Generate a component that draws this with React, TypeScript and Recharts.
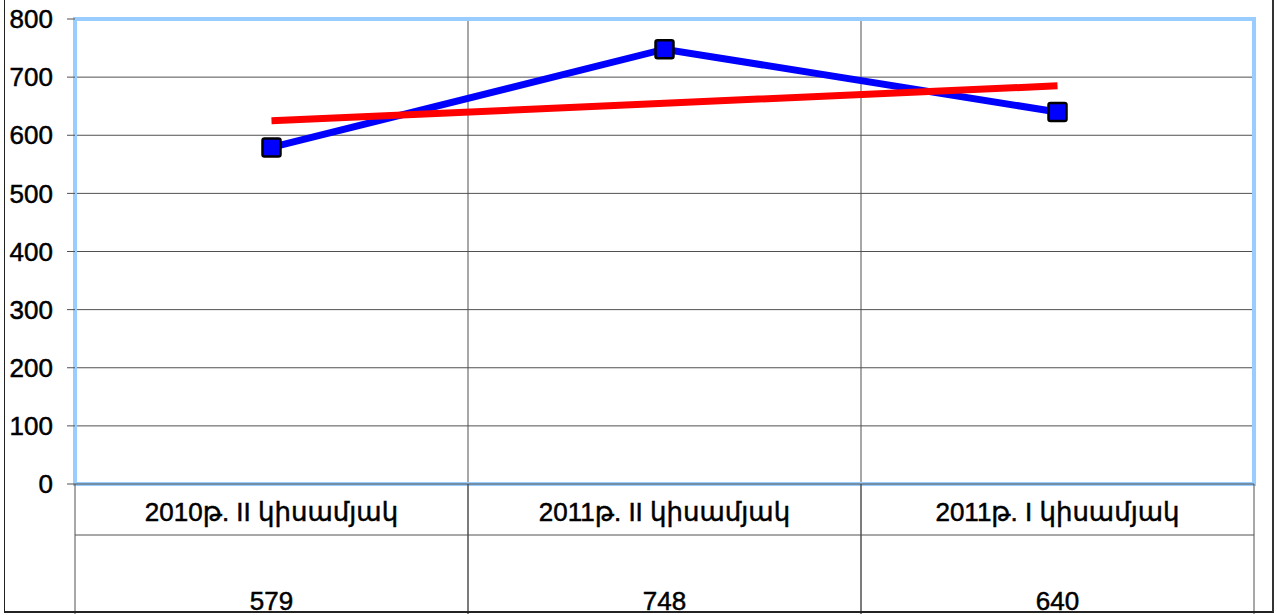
import { LineChart, Line, XAxis, YAxis, CartesianGrid, ReferenceArea } from 'recharts';

const periods = ['2010թ. II կիսամյակ', '2011թ. II կիսամյակ', '2011թ. I կիսամյակ'];
const counts = [579, 748, 640];
const trendValues = [625, 655, 685];
const yTicks = [0, 100, 200, 300, 400, 500, 600, 700, 800];

const chartData = periods.map((period, i) => ({
	period,
	count: counts[i],
	trend: trendValues[i],
}));

const FONT = '"Liberation Sans", Arial, "DejaVu Sans", sans-serif';
const GRID = '#505050';

const SquareDot = (props: any) => {
	const { cx, cy } = props;
	if (cx == null || cy == null) return null;
	return <rect x={cx - 9} y={cy - 9} width={18} height={18} rx={2} fill="#0000ff" stroke="#000" strokeWidth={2.5} />;
};

// band boundaries between categories (band scale, no padding)
const bandEdges = ({ xAxis, offset }: any) => {
	const sc = xAxis && xAxis.scale;
	if (typeof sc === 'function') return periods.slice(1).map((p) => sc(p));
	const left = offset.left;
	const w = offset.width;
	return periods.slice(1).map((_, i) => left + (w * (i + 1)) / periods.length);
};

// category label + value cell under each band, like an Excel data table
const TableTick = (props: any) => {
	const { x, y, payload, width, visibleTicksCount } = props;
	const count = visibleTicksCount || periods.length;
	const half = payload.offset || width / count / 2;
	const idx = payload.index ?? periods.indexOf(payload.value);
	const left = x - half;
	const right = x + half;
	const textProps = {
		textAnchor: 'middle' as const,
		dominantBaseline: 'central' as const,
		fontSize: 26,
		fill: '#000',
		stroke: '#000',
		strokeWidth: 0.5,
		fontFamily: FONT,
	};
	return (
		<g>
			<line x1={left} y1={y} x2={right} y2={y} stroke={GRID} />
			<line x1={left} y1={y + 51} x2={right} y2={y + 51} stroke={GRID} />
			<line x1={left} y1={y} x2={left} y2={y + 130} stroke={GRID} />
			<line x1={right} y1={y} x2={right} y2={y + 130} stroke={GRID} />
			<text x={x} y={y + 28} {...textProps}>
				{payload.value}
			</text>
			<text x={x} y={y + 117} {...textProps}>
				{counts[idx]}
			</text>
		</g>
	);
};

const App = () => {
	return (
		<div style={{ position: 'absolute', left: 0, top: 0, width: 1277, height: 615, background: '#fff', fontFamily: FONT }}>
			<LineChart width={1277} height={615} data={chartData} margin={{ top: 19, right: 23, left: 0, bottom: 0 }}>
				<CartesianGrid stroke={GRID} verticalCoordinatesGenerator={bandEdges} />
				<XAxis
					dataKey="period"
					scale="band"
					height={131}
					axisLine={false}
					tickLine={false}
					tickSize={0}
					tickMargin={0}
					interval={0}
					tick={<TableTick />}
				/>
				<YAxis
					domain={[0, 800]}
					ticks={yTicks}
					width={75}
					axisLine={false}
					tickSize={8}
					tickMargin={14}
					tickLine={{ stroke: GRID }}
					tick={{ fontSize: 26, fill: '#000', stroke: '#000', strokeWidth: 0.5, fontFamily: FONT }}
				/>
				<ReferenceArea y1={0} y2={800} fill="none" stroke="#99ccff" strokeWidth={4} ifOverflow="visible" />
				<Line
					dataKey="count"
					stroke="#0000ff"
					strokeWidth={7}
					dot={<SquareDot />}
					activeDot={false}
					isAnimationActive={false}
				/>
				<Line dataKey="trend" stroke="#ff0000" strokeWidth={7} dot={false} activeDot={false} isAnimationActive={false} />
			</LineChart>
			<div
				style={{
					position: 'absolute',
					left: 4,
					top: 0,
					width: 1270,
					height: 613,
					boxSizing: 'border-box',
					borderLeft: '1px solid #222',
					borderRight: '2px solid #333',
					borderBottom: '2px solid #222',
					pointerEvents: 'none',
				}}
			/>
		</div>
	);
};

export default App;
